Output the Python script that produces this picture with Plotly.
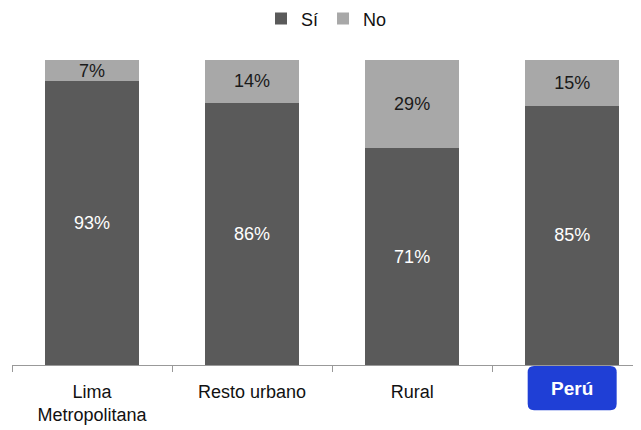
import plotly.graph_objects as go

categories = ["Lima<br>Metropolitana", "Resto urbano", "Rural", "Perú"]
si_values = [93, 86, 71, 85]
no_values = [7, 14, 29, 15]

fig = go.Figure()
fig.add_trace(go.Bar(
    x=categories, y=si_values, name="Sí",
    marker=dict(color="#5a5a5a", line=dict(width=0)),
    text=[f"{v}%" for v in si_values], textposition="inside",
    insidetextanchor="middle", constraintext="none",
    textfont=dict(color="white", size=18, family="Liberation Sans, Arial"),
    width=0.59,
))
fig.add_trace(go.Bar(
    x=categories, y=no_values, name="No",
    marker=dict(color="#a8a8a8", line=dict(width=0)),
    text=[f"{v}%" for v in no_values], textposition="inside",
    insidetextanchor="middle", constraintext="none",
    textfont=dict(color="#1a1a1a", size=18, family="Liberation Sans, Arial"),
    width=0.59,
))

# Perú label drawn as a blue rounded box instead of a plain tick label
cx = 3
hw, top, bot = 0.278, -0.003, -0.148
rx, ry = 0.04, 0.021
path = (f"M {cx-hw+rx},{top} L {cx+hw-rx},{top} Q {cx+hw},{top} {cx+hw},{top-ry} "
        f"L {cx+hw},{bot+ry} Q {cx+hw},{bot} {cx+hw-rx},{bot} "
        f"L {cx-hw+rx},{bot} Q {cx-hw},{bot} {cx-hw},{bot+ry} "
        f"L {cx-hw},{top-ry} Q {cx-hw},{top} {cx-hw+rx},{top} Z")
fig.add_shape(type="path", path=path, xref="x", yref="paper",
              fillcolor="#1f3fd6", line=dict(width=0))
fig.add_annotation(
    x=categories[3], y=(top + bot) / 2, xref="x", yref="paper", yanchor="middle",
    text="<b>Perú</b>", showarrow=False,
    font=dict(color="white", size=19, family="Liberation Sans, Arial"),
)

# page body adds an 8px offset, so the figure is sized/margined to compensate
fig.update_layout(
    barmode="stack",
    width=633, height=422,
    margin=dict(l=4, r=0, t=52, b=65, autoexpand=False),
    paper_bgcolor="white", plot_bgcolor="white",
    font=dict(family="Liberation Sans, Arial", size=18, color="#111"),
    legend=dict(orientation="h", x=0.5, xanchor="center", y=1.135, yanchor="middle",
                font=dict(size=18), traceorder="normal", itemwidth=30),
    xaxis=dict(range=[-0.5, 3.43], showline=True, linecolor="#999", linewidth=1,
               ticks="outside", tickson="boundaries", ticklen=6, tickcolor="#999",
               tickvals=categories[:3], ticktext=categories[:3],
               ticklabelstandoff=10,
               tickfont=dict(size=18, color="#111")),
    yaxis=dict(range=[0, 100], visible=False),
)

fig.write_html("out.html")
